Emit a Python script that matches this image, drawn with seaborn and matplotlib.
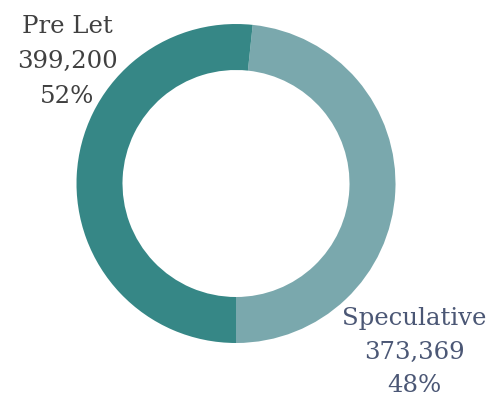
import matplotlib
matplotlib.use("Agg")
import matplotlib.pyplot as plt
import seaborn as sns

# données
labels = ["Speculative", "Pre Let"]
values = [373369, 399200]
colors = ["#7aa8ad", "#368786"]
text_colors = ["#4b5775", "#404040"]

sns.set_theme(style="white")
plt.rcParams['font.family'] = ['DejaVu Serif']

W, H = 490, 397
fig = plt.figure(figsize=(W / 100, H / 100), dpi=100)
ax = fig.add_axes([0, 0, 1, 1])
ax.set_xlim(0, W)
ax.set_ylim(0, H)
ax.axis('off')

# anneau
ax.pie(values, colors=colors, startangle=-90, counterclock=True,
       center=(236, H - 183.5), radius=159.5, frame=True,
       wedgeprops=dict(width=46, linewidth=0))
ax.set_xlim(0, W)
ax.set_ylim(0, H)
ax.set_aspect('equal')
ax.axis('off')

total = sum(values)
# positions des étiquettes (centre x, première ligne de base, pas)
label_pos = [(414, 325, 33.5), (67, 33, 35)]

for lab, val, col, (x, y0, step) in zip(labels, values, text_colors, label_pos):
    lines = [lab, f"{val:,}", f"{round(val / total * 100)}%"]
    for i, line in enumerate(lines):
        ax.text(x, H - (y0 + i * step), line, ha='center', va='baseline',
                fontsize=17.6, color=col)

plt.savefig("out.png", dpi=100)
